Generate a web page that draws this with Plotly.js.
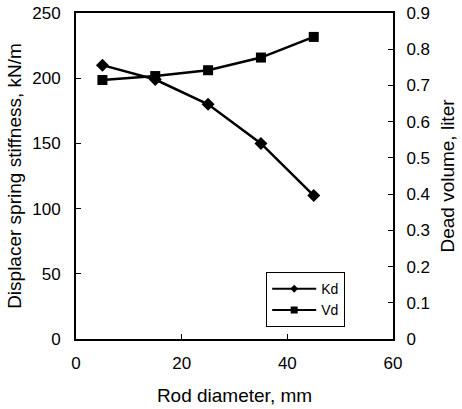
<!DOCTYPE html>
<html><head><meta charset="utf-8">
<script src="https://cdn.plot.ly/plotly-3.0.1.min.js"></script>
<style>body{margin:0;}#c{width:462px;height:409px;}</style>
</head><body><div id="c"></div>
<script>
const rodDiameter = [5, 15, 25, 35, 45];
const kd = [210, 199, 180, 150, 110];
const vd = [0.715, 0.726, 0.742, 0.777, 0.834];
const seriesNames = ['Kd', 'Vd'];

const fam = 'Liberation Sans, Arial, sans-serif';
const tickFont = {family: fam, size: 17, color: '#000'};
const titleFont = {family: fam, size: 19, color: '#000'};
const data = [
  {x: rodDiameter, y: kd, name: seriesNames[0], type: 'scatter', mode: 'lines+markers', showlegend: false,
   line: {color: '#000', width: 2.5}, marker: {symbol: 'diamond', size: 10, color: '#000'}},
  {x: rodDiameter, y: vd, name: seriesNames[1], type: 'scatter', mode: 'lines+markers', yaxis: 'y2', showlegend: false,
   line: {color: '#000', width: 2.5}, marker: {symbol: 'square', size: 10, color: '#000'}},
  // legend entries (no data drawn)
  {x: [null], y: [null], name: seriesNames[0], type: 'scatter', mode: 'lines+markers',
   line: {color: '#000', width: 2}, marker: {symbol: 'diamond', size: 6, color: '#000'}},
  {x: [null], y: [null], name: seriesNames[1], type: 'scatter', mode: 'lines+markers',
   line: {color: '#000', width: 2}, marker: {symbol: 'square', size: 7, color: '#000'}}
];
const layout = {
  width: 462, height: 409,
  margin: {l: 76, r: 69, t: 13, b: 70},
  paper_bgcolor: '#fff', plot_bgcolor: '#fff',
  font: tickFont, showlegend: true,
  legend: {x: 0.6, y: 0.205, xanchor: 'left', yanchor: 'top', bordercolor: '#000', borderwidth: 1,
    bgcolor: '#fff', itemwidth: 44, font: {family: fam, size: 14, color: '#000'}},
  xaxis: {range: [0, 60], tickvals: [0, 20, 40, 60], ticks: 'inside', ticklen: 5, tickcolor: '#000',
    tickfont: tickFont, ticklabelstandoff: 8,
    showline: true, linecolor: '#000', linewidth: 2, mirror: true, showgrid: false, zeroline: false,
    title: {text: 'Rod diameter, mm', font: titleFont, standoff: 16}},
  yaxis: {range: [0, 250], dtick: 50, ticks: 'inside', ticklen: 5, tickcolor: '#000',
    tickfont: tickFont, ticklabelstandoff: 10,
    showline: true, linecolor: '#000', linewidth: 2, showgrid: false, zeroline: false,
    title: {text: 'Displacer spring stiffness, kN/m', font: titleFont, standoff: 6}},
  yaxis2: {range: [0, 0.9], dtick: 0.1, overlaying: 'y', side: 'right', ticks: 'inside', ticklen: 5,
    tickfont: tickFont, ticklabelstandoff: 8,
    tickcolor: '#000', showline: true, linecolor: '#000', linewidth: 2, showgrid: false, zeroline: false,
    title: {text: 'Dead volume, liter', font: titleFont, standoff: 12}}
};
Plotly.newPlot('c', data, layout, {displayModeBar: false});
</script></body></html>
